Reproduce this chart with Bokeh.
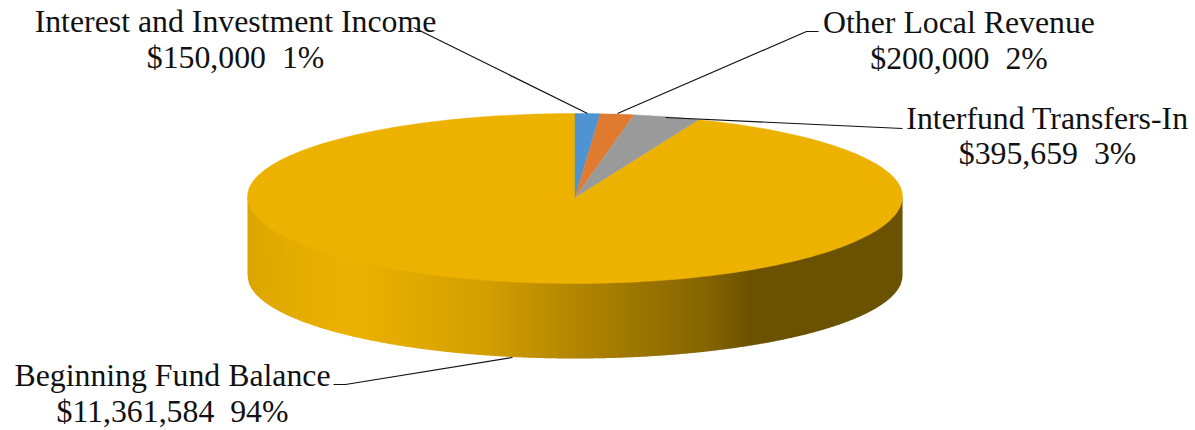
from bokeh.plotting import figure
from bokeh.models import ColumnDataSource
from bokeh.core.properties import value
from bokeh.embed import file_html
from bokeh.resources import INLINE
import numpy as np

# Revenue sources, clockwise from twelve o'clock
categories = ["Interest and Investment Income", "Other Local Revenue",
              "Interfund Transfers-In", "Beginning Fund Balance"]
amounts = [150000, 200000, 395659, 11361584]
colors = ["#5093D3", "#DF7A2E", "#9A9A9A", "#EDB200"]

# Horizontal shading of the rim: position across the pie (0..1) and colour
rim_pos = [0.0, 0.04, 0.16, 0.36, 0.50, 0.70, 0.77, 1.0]
rim_rgb = [(220, 166, 0), (226, 170, 0), (237, 178, 0), (212, 160, 0),
           (178, 134, 0), (134, 101, 0), (107, 82, 0), (107, 82, 0)]

# Label placement in page pixels: centre x, name line centre, value line centre
label_cx = [235, 958.5, 1047, 172]
label_y1 = [21, 22, 118, 375]
label_y2 = [57, 58, 153, 411]
leader_x = [[413, 587], [818, 806, 617], [902, 665], [333, 345, 512]]
leader_y = [[27, 113], [31, 31, 113], [128, 117], [384, 384, 357]]

CX, RX = 574.5, 327.5
APEX_Y, EDGE_Y = 197.0, 196.0     # hub of the wedges, widest row of the top face
RY_BACK, RY_FRONT = 83.0, 87.0    # the near half looks slightly deeper
FLOOR_Y, RY_FLOOR = 275.0, 83.0   # lower edge of the rim
FONT = "Liberation Serif"

p = figure(width=1195, height=430, x_range=(0, 1195), y_range=(430, 0),
           toolbar_location=None, output_backend="svg", min_border=0,
           outline_line_color=None, background_fill_color="white")
p.axis.visible = False
p.grid.visible = False

# Rim: narrow vertical strips between the front edge and the lower edge
edges = np.arange(CX - RX, CX + RX, 2.0)
xs, ys, fills = [], [], []
for x0 in edges:
    x1 = min(x0 + 2.6, CX + RX)
    t = np.linspace(x0, x1, 3)
    arc = np.sqrt(np.clip(1 - ((t - CX) / RX) ** 2, 0, 1))
    upper = EDGE_Y + RY_FRONT * arc - 1
    lower = FLOOR_Y + RY_FLOOR * arc
    xs.append(np.concatenate([t, t[::-1]]))
    ys.append(np.concatenate([upper, lower[::-1]]))
    u = (x0 + 1 - (CX - RX)) / (2 * RX)
    rgb = [int(np.interp(u, rim_pos, [c[i] for c in rim_rgb])) for i in range(3)]
    fills.append("#%02x%02x%02x" % tuple(rgb))
p.patches(xs, ys, fill_color=fills, line_color=None)

# Top face: wedges on the flattened circle, sized by each amount
total = sum(amounts)
angles = np.cumsum([0] + amounts) / total * 2 * np.pi
for i in [3, 0, 1, 2]:
    th = np.linspace(angles[i], angles[i + 1], max(4, int((angles[i + 1] - angles[i]) * 60)))
    ry = np.where(np.cos(th) >= 0, RY_BACK, RY_FRONT)
    wx = np.concatenate([[CX], CX + RX * np.sin(th)])
    wy = np.concatenate([[APEX_Y], EDGE_Y - ry * np.cos(th)])
    p.patch(wx, wy, fill_color=colors[i], line_color=colors[i], line_width=0.4)

# Leader lines
p.multi_line(leader_x, leader_y, line_color="#111111", line_width=1.2)

# Labels: name on the first line, amount and share on the second
value_lines = [f"${a:,}\u00a0\u00a0{round(a / total * 100)}%" for a in amounts]
src = ColumnDataSource(dict(
    x=label_cx + label_cx,
    y=label_y1 + label_y2,
    text=categories + value_lines,
))
p.text("x", "y", "text", source=src, text_align="center", text_baseline="middle",
       text_font=value(FONT), text_font_size="31.8px", text_color="#111111")

open("out.html", "w").write(file_html(p, INLINE))
